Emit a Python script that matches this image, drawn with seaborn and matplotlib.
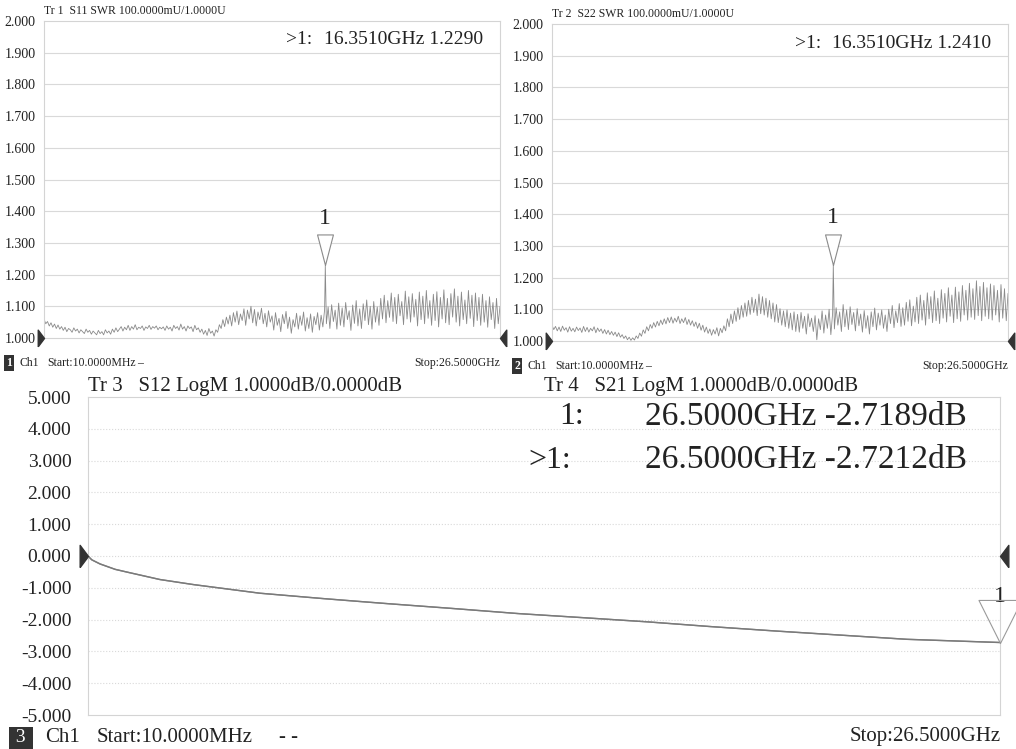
import numpy as np
import pandas as pd
import matplotlib
matplotlib.use("Agg")
import matplotlib.pyplot as plt
import seaborn as sns

W, H = 1016, 749

# ---------------- data ----------------
f_start, f_stop = 0.01, 26.5          # GHz sweep
n_pts = 261

s11_vals = [
    1.060, 1.045, 1.052, 1.038, 1.048, 1.034, 1.044, 1.030, 1.041, 1.028,
    1.036, 1.024, 1.034, 1.020, 1.030, 1.026, 1.018, 1.032, 1.022, 1.028,
    1.016, 1.026, 1.020, 1.014, 1.028, 1.018, 1.024, 1.012, 1.022, 1.016,
    1.010, 1.024, 1.014, 1.020, 1.010, 1.026, 1.016, 1.022, 1.012, 1.028,
    1.018, 1.032, 1.020, 1.028, 1.036, 1.022, 1.034, 1.026, 1.040, 1.024,
    1.036, 1.028, 1.042, 1.026, 1.034, 1.030, 1.038, 1.024, 1.035, 1.030,
    1.040, 1.027, 1.036, 1.031, 1.038, 1.026, 1.034, 1.029, 1.035, 1.024,
    1.038, 1.028, 1.034, 1.022, 1.040, 1.030, 1.036, 1.025, 1.044, 1.028,
    1.036, 1.022, 1.038, 1.030, 1.035, 1.020, 1.040, 1.026, 1.032, 1.018,
    1.028, 1.012, 1.024, 1.008, 1.030, 1.015, 1.022, 1.006, 1.026, 1.018,
    1.042, 1.030, 1.058, 1.036, 1.066, 1.044, 1.072, 1.038, 1.080, 1.050,
    1.085, 1.042, 1.076, 1.055, 1.092, 1.040, 1.088, 1.060, 1.100, 1.048,
    1.090, 1.038, 1.082, 1.058, 1.094, 1.045, 1.078, 1.035, 1.086, 1.050,
    1.070, 1.025, 1.080, 1.040, 1.062, 1.020, 1.074, 1.045, 1.084, 1.030,
    1.066, 1.015, 1.058, 1.035, 1.078, 1.028, 1.070, 1.040, 1.082, 1.022,
    1.064, 1.030, 1.076, 1.018, 1.068, 1.042, 1.080, 1.025, 1.072, 1.035,
    1.090, 1.045, 1.098, 1.030, 1.105, 1.052, 1.088, 1.028, 1.110, 1.040,
    1.095, 1.035, 1.112, 1.058, 1.086, 1.024, 1.104, 1.046, 1.118, 1.038,
    1.092, 1.030, 1.108, 1.055, 1.120, 1.042, 1.100, 1.028, 1.115, 1.050,
    1.098, 1.040, 1.125, 1.060, 1.135, 1.048, 1.118, 1.065, 1.142, 1.052,
    1.128, 1.045, 1.138, 1.070, 1.115, 1.042, 1.148, 1.060, 1.130, 1.050,
    1.140, 1.066, 1.122, 1.038, 1.145, 1.058, 1.132, 1.045, 1.150, 1.062,
    1.118, 1.040, 1.138, 1.055, 1.146, 1.035, 1.128, 1.060, 1.152, 1.048,
    1.125, 1.042, 1.140, 1.066, 1.155, 1.050, 1.132, 1.038, 1.145, 1.058,
    1.120, 1.045, 1.150, 1.062, 1.135, 1.036, 1.142, 1.055, 1.128, 1.040,
    1.138, 1.050, 1.118, 1.034, 1.130, 1.058, 1.112, 1.030, 1.125, 1.045,
    1.100,
]
s22_vals = [
    1.050, 1.036, 1.046, 1.032, 1.044, 1.030, 1.047, 1.034, 1.042, 1.028,
    1.045, 1.031, 1.040, 1.029, 1.044, 1.033, 1.041, 1.027, 1.046, 1.030,
    1.043, 1.028, 1.040, 1.032, 1.045, 1.026, 1.041, 1.030, 1.038, 1.024,
    1.036, 1.022, 1.034, 1.020, 1.030, 1.018, 1.028, 1.014, 1.026, 1.012,
    1.020, 1.008, 1.016, 1.004, 1.012, 1.002, 1.010, 1.003, 1.016, 1.008,
    1.025, 1.015, 1.035, 1.024, 1.045, 1.032, 1.052, 1.040, 1.058, 1.044,
    1.062, 1.048, 1.066, 1.052, 1.070, 1.054, 1.074, 1.058, 1.076, 1.056,
    1.072, 1.060, 1.078, 1.055, 1.070, 1.058, 1.074, 1.052, 1.068, 1.050,
    1.064, 1.046, 1.060, 1.040, 1.056, 1.034, 1.050, 1.028, 1.044, 1.024,
    1.038, 1.018, 1.036, 1.022, 1.042, 1.016, 1.040, 1.026, 1.048, 1.032,
    1.070, 1.045, 1.085, 1.055, 1.095, 1.062, 1.105, 1.068, 1.112, 1.075,
    1.120, 1.078, 1.128, 1.084, 1.138, 1.090, 1.132, 1.080, 1.148, 1.086,
    1.140, 1.082, 1.135, 1.075, 1.128, 1.070, 1.120, 1.060, 1.115, 1.058,
    1.102, 1.050, 1.095, 1.045, 1.098, 1.040, 1.088, 1.035, 1.092, 1.030,
    1.084, 1.028, 1.090, 1.040, 1.078, 1.022, 1.086, 1.045, 1.072, 1.030,
    1.080, 1.004, 1.070, 1.036, 1.095, 1.025, 1.082, 1.040, 1.100, 1.020,
    1.088, 1.038, 1.105, 1.050, 1.092, 1.030, 1.115, 1.045, 1.098, 1.036,
    1.108, 1.052, 1.090, 1.032, 1.102, 1.048, 1.085, 1.028, 1.096, 1.040,
    1.080, 1.022, 1.092, 1.045, 1.104, 1.035, 1.088, 1.050, 1.098, 1.040,
    1.082, 1.030, 1.100, 1.055, 1.112, 1.042, 1.095, 1.058, 1.118, 1.046,
    1.105, 1.050, 1.122, 1.062, 1.130, 1.048, 1.110, 1.060, 1.138, 1.055,
    1.145, 1.066, 1.128, 1.050, 1.152, 1.070, 1.140, 1.058, 1.158, 1.064,
    1.135, 1.055, 1.162, 1.072, 1.150, 1.060, 1.168, 1.078, 1.145, 1.058,
    1.170, 1.070, 1.155, 1.062, 1.175, 1.082, 1.160, 1.066, 1.182, 1.075,
    1.165, 1.068, 1.190, 1.080, 1.172, 1.064, 1.185, 1.078, 1.168, 1.070,
    1.180, 1.066, 1.175, 1.082, 1.160, 1.060, 1.178, 1.072, 1.165, 1.064,
    1.150,
]
mk_f = 16.351
s11_mk = 1.2290
s22_mk = 1.2410

ins_f = [0.01, 0.12, 0.36, 0.8, 1.2, 2.1, 3.08, 5.0, 6.85, 7.9, 8.73, 10.6,
         12.5, 14.4, 16.25, 18.1, 20.0, 21.9, 23.8, 26.5]
s21_db = [0.0, -0.12, -0.25, -0.42, -0.52, -0.74, -0.90, -1.17, -1.34, -1.43,
          -1.50, -1.65, -1.81, -1.94, -2.07, -2.22, -2.36, -2.49, -2.62, -2.7212]
s12_db = [0.0, -0.12, -0.25, -0.42, -0.52, -0.74, -0.90, -1.17, -1.34, -1.43,
          -1.50, -1.65, -1.81, -1.94, -2.07, -2.22, -2.36, -2.49, -2.62, -2.7189]
ins_mk_f = 26.5

swr_ticks = [1.0, 1.1, 1.2, 1.3, 1.4, 1.5, 1.6, 1.7, 1.8, 1.9, 2.0]
db_ticks = [-5.0, -4.0, -3.0, -2.0, -1.0, 0.0, 1.0, 2.0, 3.0, 4.0, 5.0]

# ---------------- style ----------------
sns.set_theme(style="white")
plt.rcParams["font.family"] = ["Liberation Serif", "DejaVu Serif"]
plt.rcParams["axes.unicode_minus"] = False

fig = plt.figure(figsize=(W / 100, H / 100), dpi=100)
fig.patch.set_facecolor("white")


def ax_px(l, t, r, b):
    return fig.add_axes([l / W, 1 - b / H, (r - l) / W, (b - t) / H])


def ftxt(x, y, s, size, ha="left", va="center", **kw):
    return fig.text(x / W, 1 - y / H, s, fontsize=size, ha=ha, va=va,
                    color="#222222", **kw)


TRI_DOWN = [(0, 0), (-0.26, 1), (0.26, 1), (0, 0)]
TRI_WIDE = [(0, 0), (-0.5, 1), (0.5, 1), (0, 0)]
ARR_R = [(-0.75, -1), (0, 0), (-0.75, 1), (-0.75, -1)]
ARR_L = [(0.75, -1), (0, 0), (0.75, 1), (0.75, -1)]


def style_axes(ax, ticks, ylim, labsize, pad, grid_ls):
    ax.set_xlim(f_start, f_stop)
    ax.set_ylim(*ylim)
    ax.set_yticks(ticks)
    ax.set_yticklabels([f"{t:.3f}" for t in ticks])
    ax.set_xticks([])
    ax.tick_params(axis="y", length=0, pad=pad, labelsize=labsize, labelcolor="#222222")
    ax.set_xlabel("")
    ax.set_ylabel("")
    for y in ticks[1:-1]:
        ax.axhline(y, color="#d9d9d9", lw=0.8, ls=grid_ls, zorder=0)
    for sp in ax.spines.values():
        sp.set_color("#d4d4d4")
        sp.set_linewidth(0.8)


def swr_panel(box, vals, mk_val, title, readout_val, foot_num, px):
    l, t, r, b = box
    ax = ax_px(l, t, r, b)
    freq = np.linspace(f_start, f_stop, n_pts)
    df = pd.DataFrame({"f": freq, "swr": vals})
    df = pd.concat([df, pd.DataFrame({"f": [mk_f], "swr": [mk_val]})]).sort_values("f")
    sns.lineplot(data=df, x="f", y="swr", ax=ax, color="#8a8a8a", lw=0.6, sort=False)
    style_axes(ax, swr_ticks, (1.0, 2.0), 10, 6, "-")
    # marker
    ax.plot([mk_f], [mk_val], marker=TRI_DOWN, ms=44, mfc="white", mec="#8a8a8a",
            mew=0.8, ls="none", zorder=5)
    ax.annotate("1", (mk_f, mk_val), xytext=(0, 34), textcoords="offset points",
                ha="center", va="center", fontsize=17, color="#222222")
    # reference arrows
    ax.plot([f_start], [1.0], marker=ARR_R, ms=12, mfc="#333333", mec="#333333",
            ls="none", clip_on=False, zorder=6)
    ax.plot([f_stop], [1.0], marker=ARR_L, ms=12, mfc="#333333", mec="#333333",
            ls="none", clip_on=False, zorder=6)
    # texts
    ftxt(l, t - 10, title, 8.5)
    ftxt(px[0], t + 19, ">1:", 14)
    ftxt(r - 17, t + 19, f"16.3510GHz {readout_val:.4f}", 14, ha="right")
    fy = b + 25
    tb = ftxt(px[1], fy, foot_num, 8.5, ha="center", fontweight="bold",
              bbox=dict(boxstyle="square,pad=0.2", fc="#333333", ec="none"))
    tb.set_color("white")
    ftxt(px[1] + 11, fy, "Ch1", 8.5)
    ftxt(px[1] + 38, fy, "Start:10.0000MHz", 8.5)
    ftxt(px[1] + 128, fy, "\u2013", 8.5)
    ftxt(r, fy, "Stop:26.5000GHz", 8.5, ha="right")
    return ax


swr_panel((44, 21, 500, 338), s11_vals, s11_mk,
          "Tr 1  S11 SWR 100.0000mU/1.0000U", s11_mk, "1", (286, 9))
swr_panel((552, 24, 1008, 341), s22_vals, s22_mk,
          "Tr 2  S22 SWR 100.0000mU/1.0000U", s22_mk, "2", (795, 517))

# ---------------- insertion loss panel ----------------
l, t, r, b = 88, 397, 1000, 715
ax3 = ax_px(l, t, r, b)
dfl = pd.DataFrame({"f": ins_f + ins_f,
                    "db": s12_db + s21_db,
                    "tr": ["S12"] * len(ins_f) + ["S21"] * len(ins_f)})
sns.lineplot(data=dfl, x="f", y="db", hue="tr", palette=["#8a8a8a", "#7a7a7a"],
             ax=ax3, lw=1.0, legend=False)
style_axes(ax3, db_ticks, (-5.0, 5.0), 14, 12, ":")
ax3.plot([ins_mk_f], [s21_db[-1]], marker=TRI_WIDE, ms=62, mfc="none", mec="#9a9a9a",
         mew=0.8, ls="none", clip_on=False, zorder=5)
ax3.annotate("1", (ins_mk_f, s21_db[-1]), xytext=(0, 33), textcoords="offset points",
             ha="center", va="center", fontsize=17, color="#222222", annotation_clip=False)
ax3.plot([f_start], [0.0], marker=ARR_R, ms=16, mfc="#333333", mec="#333333",
         ls="none", clip_on=False, zorder=6)
ax3.plot([f_stop], [0.0], marker=ARR_L, ms=16, mfc="#333333", mec="#333333",
         ls="none", clip_on=False, zorder=6)

ftxt(88, 386, "Tr 3   S12 LogM 1.0000dB/0.0000dB", 15)
ftxt(544, 386, "Tr 4   S21 LogM 1.0000dB/0.0000dB", 15)
ftxt(559, 417, "1:", 23)
ftxt(528, 460, ">1:", 23)
ftxt(967, 417, f"26.5000GHz {s12_db[-1]:.4f}dB", 24, ha="right")
ftxt(967, 460, f"26.5000GHz {s21_db[-1]:.4f}dB", 24, ha="right")
tb3 = ftxt(21, 738, " 3 ", 14, ha="center",
           bbox=dict(boxstyle="square,pad=0.12", fc="#333333", ec="none"))
tb3.set_color("white")
ftxt(45, 737, "Ch1", 15)
ftxt(97, 737, "Start:10.0000MHz", 15)
ftxt(279, 737, "- -", 15)
ftxt(1001, 737, "Stop:26.5000GHz", 15, ha="right")

fig.savefig("out.png", dpi=100, facecolor="white")
